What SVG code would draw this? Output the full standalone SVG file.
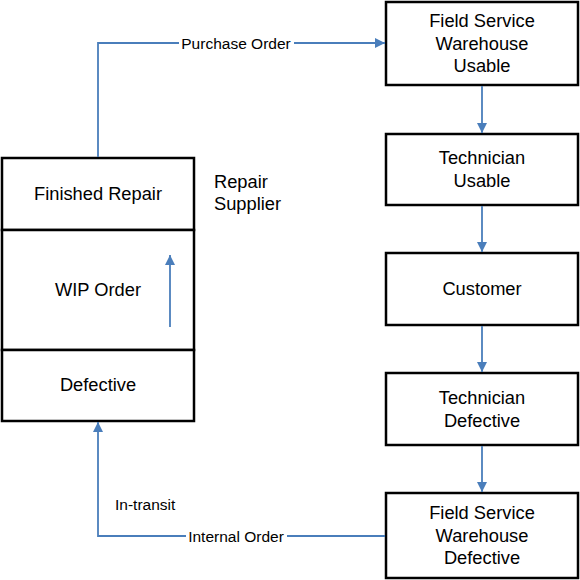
<svg xmlns="http://www.w3.org/2000/svg" width="580" height="580" viewBox="0 0 580 580">
<style>
.box{fill:#fff;stroke:#000;stroke-width:2.5}
.t{font-family:"Liberation Sans",Arial,sans-serif;font-size:18.3px;fill:#000;text-anchor:middle}
.s{font-family:"Liberation Sans",Arial,sans-serif;font-size:18.3px;fill:#000;text-anchor:start}
.l{font-family:"Liberation Sans",Arial,sans-serif;font-size:15.5px;fill:#000}
.c{fill:none;stroke:#4a7ebb;stroke-width:1.8}
</style>
<defs>
<marker id="ah" viewBox="0 0 10 10" refX="10" refY="5" markerWidth="10" markerHeight="10" markerUnits="userSpaceOnUse" orient="auto">
<path d="M0,0 L10,5 L0,10 z" fill="#4a7ebb"/>
</marker>
</defs>
<rect width="580" height="580" fill="#fff"/>
<g id="finished-repair">
<rect class="box" x="2" y="158" width="192" height="72"/>
<text class="t" x="98" y="200">Finished Repair</text>
</g>
<g id="wip-order">
<rect class="box" x="2" y="230" width="192" height="120"/>
<text class="t" x="98" y="296">WIP Order</text>
</g>
<g id="defective">
<rect class="box" x="2" y="350" width="192" height="71"/>
<text class="t" x="98" y="391">Defective</text>
</g>
<g id="repair-supplier">
<text class="s" x="214" y="188">Repair</text>
<text class="s" x="214" y="210">Supplier</text>
</g>
<g id="fsw-usable">
<rect class="box" x="386" y="2" width="192" height="83"/>
<text class="t" x="482" y="27">Field Service</text>
<text class="t" x="482" y="49.5">Warehouse</text>
<text class="t" x="482" y="72">Usable</text>
</g>
<g id="tech-usable">
<rect class="box" x="386" y="134" width="192" height="71"/>
<text class="t" x="482" y="164">Technician</text>
<text class="t" x="482" y="186.5">Usable</text>
</g>
<g id="customer">
<rect class="box" x="386" y="253" width="192" height="72"/>
<text class="t" x="482" y="295">Customer</text>
</g>
<g id="tech-defective">
<rect class="box" x="386" y="373" width="192" height="72"/>
<text class="t" x="482" y="404">Technician</text>
<text class="t" x="482" y="426.5">Defective</text>
</g>
<g id="fsw-defective">
<rect class="box" x="386" y="493" width="192" height="85"/>
<text class="t" x="482" y="519">Field Service</text>
<text class="t" x="482" y="541.5">Warehouse</text>
<text class="t" x="482" y="564">Defective</text>
</g>
<g id="connectors">
<path class="c" d="M98,157 V43 H385" marker-end="url(#ah)"/>
<path class="c" d="M385,536 H98 V422" marker-end="url(#ah)"/>
<path class="c" d="M170,327 V255" marker-end="url(#ah)"/>
<path class="c" d="M482,86 V133" marker-end="url(#ah)"/>
<path class="c" d="M482,206 V252" marker-end="url(#ah)"/>
<path class="c" d="M482,326 V372" marker-end="url(#ah)"/>
<path class="c" d="M482,446 V492" marker-end="url(#ah)"/>
<rect x="179" y="34" width="115" height="18" fill="#fff"/>
<text class="l" x="236" y="48.5" text-anchor="middle">Purchase Order</text>
<rect x="186" y="527" width="101" height="18" fill="#fff"/>
<text class="l" x="236" y="541.5" text-anchor="middle">Internal Order</text>
<text class="l" x="115" y="510">In-transit</text>
</g>
</svg>
